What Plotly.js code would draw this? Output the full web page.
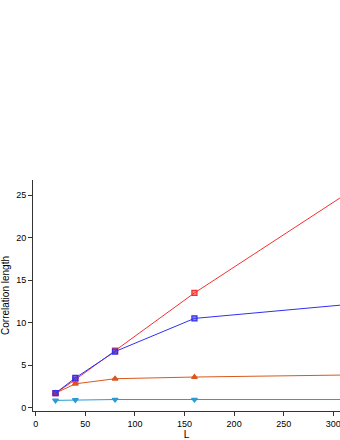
<!DOCTYPE html>
<html><head><meta charset="utf-8">
<script src="https://cdn.plot.ly/plotly-3.0.1.min.js"></script>
<style>html,body{margin:0;padding:0;background:#fff}#chart{width:340px;height:440px}</style>
</head><body><div id="chart"></div>
<script>
const L = [20, 40, 80, 160, 320];
const seriesRed = [1.7, 3.3, 6.7, 13.5, 25.7];
const seriesBlue = [1.7, 3.5, 6.6, 10.5, 12.2];
const seriesOrange = [1.7, 2.8, 3.4, 3.6, 3.85];
const seriesCyan = [0.85, 0.9, 0.95, 0.95, 0.95];
const xTicks = [0, 50, 100, 150, 200, 250, 300];
const yTicks = [0, 5, 10, 15, 20, 25];

function tr(y, color, fill, symbol) {
  return {x: L, y: y, type: 'scatter', mode: 'lines+markers',
    line: {color: color, width: 1},
    marker: {color: fill, symbol: symbol, size: 5, line: {color: color, width: 1.3}}};
}
const data = [
  tr(seriesCyan, '#2b9bd3', '#2b9bd3', 'triangle-down'),
  tr(seriesOrange, '#d9581e', '#d9581e', 'triangle-up'),
  tr(seriesRed, '#f43030', 'rgba(244,48,48,0.55)', 'square'),
  tr(seriesBlue, '#3030f0', 'rgba(48,48,240,0.55)', 'square')
];
const layout = {
  width: 340, height: 440, showlegend: false,
  paper_bgcolor: '#fff', plot_bgcolor: '#fff',
  margin: {l: 33, r: 0, t: 180, b: 29},
  font: {family: 'Liberation Sans, Arial, sans-serif', size: 9, color: '#000'},
  xaxis: {range: [-2.7, 306.7], tickvals: xTicks, ticks: 'outside', ticklen: 4, tickcolor: '#333',
    ticklabeloverflow: 'allow',
    showgrid: false, zeroline: false, showline: true, linecolor: '#333', linewidth: 1,
    title: {text: 'L', font: {size: 10}, standoff: 2}},
  yaxis: {range: [-0.4, 26.8], tickvals: yTicks, ticks: 'outside', ticklen: 4, tickcolor: '#333',
    showgrid: false, zeroline: false, showline: true, linecolor: '#333', linewidth: 1,
    title: {text: 'Correlation length', font: {size: 10}, standoff: 4}}
};
Plotly.newPlot('chart', data, layout, {displayModeBar: false, staticPlot: true});
</script></body></html>
